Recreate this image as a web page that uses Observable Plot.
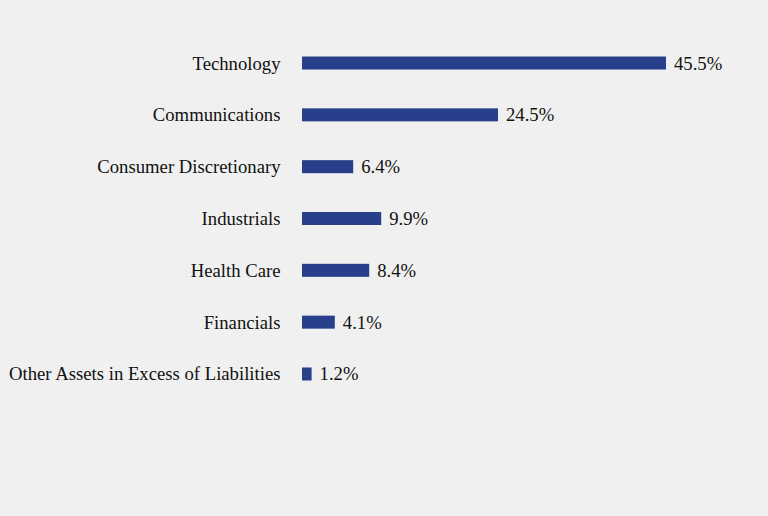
<!DOCTYPE html>
<html>
<head>
<meta charset="utf-8">
<script src="https://cdn.jsdelivr.net/npm/d3@7"></script>
<script src="https://cdn.jsdelivr.net/npm/@observablehq/plot@0.6"></script>
<style>
  html, body { margin: 0; padding: 0; background: #f0f0f0; }
  #chart { width: 768px; height: 516px; }
</style>
</head>
<body>
<div id="chart"></div>
<script>
const categories = [
  "Technology",
  "Communications",
  "Consumer Discretionary",
  "Industrials",
  "Health Care",
  "Financials",
  "Other Assets in Excess of Liabilities"
];
const values = [45.5, 24.5, 6.4, 9.9, 8.4, 4.1, 1.2];

const data = categories.map((c, i) => ({category: c, value: values[i]}));

const chart = Plot.plot({
  width: 768,
  height: 516,
  marginLeft: 302,
  marginRight: 102,
  marginTop: 17.7,
  marginBottom: 96.7,
  style: {
    background: "#f0f0f0",
    fontFamily: "'Liberation Serif', 'Times New Roman', serif",
    fontSize: "18.7px",
    color: "#111"
  },
  x: {domain: [0, 45.5], axis: null},
  y: {domain: categories, padding: 0.749, round: false, label: null},
  marks: [
    Plot.barX(data, {x: "value", y: "category", fill: "#283f8b"}),
    Plot.text(data, {
      x: "value", y: "category",
      text: d => d.value.toFixed(1) + "%",
      textAnchor: "start", dx: 7.5, fontSize: 18.7, fill: "#111"
    }),
    Plot.axisY({tickSize: 0, tickPadding: 22, fontSize: 18.7, label: null})
  ]
});
document.getElementById("chart").appendChild(chart);
</script>
</body>
</html>
